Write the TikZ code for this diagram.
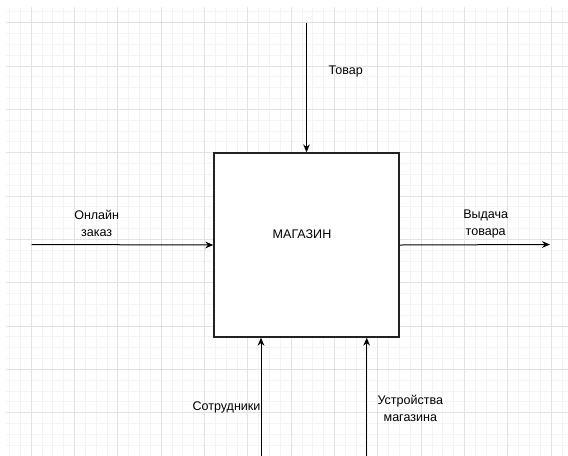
\documentclass[tikz,border=0pt]{standalone}
\usepackage{fontspec}
\setmainfont{Liberation Sans}
\usetikzlibrary{arrows.meta}
\definecolor{gridmajor}{HTML}{E2E2E2}
\definecolor{gridminor}{HTML}{F4F4F4}
\definecolor{boxline}{HTML}{222222}

\begin{document}
\begin{tikzpicture}[x=0.75pt,y=-0.75pt, >={Stealth[length=6pt,width=5pt]},
    lbl/.style={font=\fontsize{9.4}{12.6}\selectfont, align=center},
    flow/.style={->, line width=0.75pt}]
    \useasboundingbox (0,0) rectangle (568,455);
    \begin{scope}
        \clip (6,7) rectangle (568,455);
        \foreach \i in {-3,...,50} \draw[gridminor,line width=0.75pt] (31.33+\i*10.833,0) -- ++(0,460);
        \foreach \j in {-2,...,41} \draw[gridminor,line width=0.75pt] (0,22.7+\j*10.833) -- ++(575,0);
        \foreach \i in {-1,...,13} \draw[gridmajor,line width=0.75pt] (31.33+\i*43.33,0) -- ++(0,460);
        \foreach \j in {-1,...,10} \draw[gridmajor,line width=0.75pt] (0,22.7+\j*43.33) -- ++(575,0);
    \end{scope}
    \node[draw=boxline, fill=white, line width=1pt, minimum width=138.75pt, minimum height=138pt] (shop) at (306.5,245) {};
    \node[lbl] (shoptxt) at (302,234) {МАГАЗИН};
    \coordinate (goods) at (306.5,22.7);
    \coordinate (order) at (31.7,244.5);
    \coordinate (issue) at (550,244.5);
    \coordinate (staff) at (261,458);
    \coordinate (tools) at (366.7,458);
    \draw[flow] (goods) -- (shop.north);
    \draw[flow] (order) -- (shop.west);
    \draw[flow] (shop.east) -- (issue);
    \draw[flow] (staff) -- (staff |- shop.south);
    \draw[flow] (tools) -- (tools |- shop.south);
    \node[lbl] (goodslbl) at (345.7,71) {Товар};
    \node[lbl] (orderlbl) at (96.7,223.5) {Онлайн\\заказ};
    \node[lbl] (issuelbl) at (485.7,224) {Выдача\\товара};
    \node[lbl] (stafflbl) at (226.5,407) {Сотрудники};
    \node[lbl] (toolslbl) at (410.3,408.5) {Устройства\\магазина};
\end{tikzpicture}
\end{document}
